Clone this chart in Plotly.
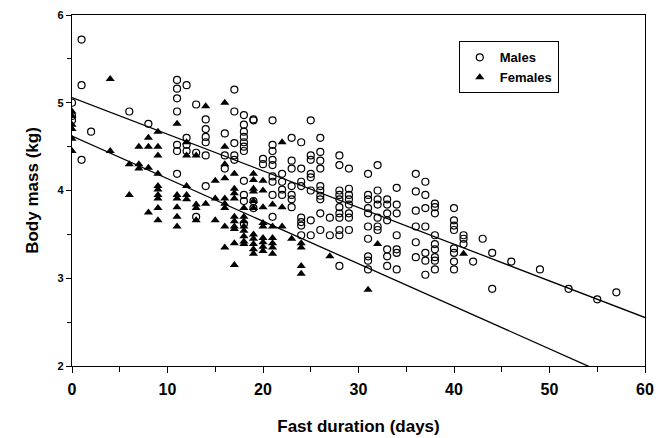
import plotly.graph_objects as go

# Males: (day, body mass) columns
male_days = (
    [0]*3 + [1]*3 + [2] + [6] + [8] + [11]*7 + [12]*4 + [13]*3 + [14]*6 + [16]*3 + [17]*5 +
    [18]*11 + [19]*4 + [20]*2 + [21]*9 + [22]*4 + [23]*7 + [24]*8 + [25]*8 + [26]*10 + [27]*2 +
    [28]*11 + [29]*8 + [31]*10 + [32]*7 + [33]*7 + [34]*7 + [36]*6 + [37]*7 + [38]*9 + [40]*8 +
    [41]*3 + [42] + [43] + [44]*2 + [46] + [49] + [52] + [55] + [57]
)
male_mass = [
    5.0, 4.85, 4.8,
    5.72, 5.2, 4.35,
    4.67,
    4.9,
    4.76,
    5.26, 5.16, 5.05, 4.9, 4.52, 4.45, 4.19,
    5.2, 4.6, 4.52, 4.45,
    4.98, 4.43, 3.7,
    4.81, 4.7, 4.61, 4.55, 4.4, 4.05,
    4.65, 4.4, 4.25,
    5.15, 4.9, 4.54, 4.4, 4.35,
    4.86, 4.75, 4.67, 4.61, 4.55, 4.5, 4.45, 4.11, 3.95, 3.88, 3.62,
    4.81, 4.8, 3.88, 3.8,
    4.36, 4.3,
    4.8, 4.52, 4.45, 4.35, 4.29, 4.16, 4.1, 3.95, 3.7,
    4.19, 4.1, 4.01, 3.95,
    4.6, 4.34, 4.25, 4.05, 3.95, 3.9, 3.81,
    4.55, 4.25, 4.1, 4.05, 3.69, 3.64, 3.6, 3.49,
    4.8, 4.4, 4.35, 4.19, 4.15, 4.0, 3.66, 3.49,
    4.6, 4.44, 4.34, 4.25, 4.05, 4.0, 3.94, 3.9, 3.74, 3.55,
    3.69, 3.49,
    4.4, 4.29, 4.0, 3.95, 3.9, 3.81, 3.74, 3.69, 3.55, 3.49, 3.14,
    4.25, 4.02, 3.95, 3.9, 3.84, 3.74, 3.69, 3.55,
    4.19, 3.95, 3.9, 3.8, 3.74, 3.59, 3.45, 3.25, 3.2, 3.1,
    4.29, 4.0, 3.9, 3.84, 3.69, 3.59, 3.55,
    3.9, 3.84, 3.74, 3.66, 3.33, 3.25, 3.14,
    4.03, 3.84, 3.74, 3.49, 3.33, 3.29, 3.1,
    4.19, 3.99, 3.77, 3.59, 3.41, 3.24,
    4.1, 3.95, 3.8, 3.59, 3.29, 3.2, 3.04,
    3.85, 3.81, 3.74, 3.49, 3.39, 3.33, 3.24, 3.2, 3.1,
    3.8, 3.66, 3.6, 3.55, 3.34, 3.29, 3.19, 3.1,
    3.49, 3.45, 3.39,
    3.19,
    3.45,
    3.29, 2.88,
    3.19,
    3.1,
    2.88,
    2.76,
    2.84,
]

female_days = (
    [0]*6 + [4]*2 + [6]*2 + [7]*3 + [8]*4 + [9]*10 + [11]*6 + [12]*5 + [13]*4 + [14]*2 +
    [15]*3 + [16]*9 + [17]*10 + [18]*8 + [19]*11 + [20]*9 + [21]*6 + [22]*3 + [23] + [24]*4 +
    [27] + [31] + [32] + [41]
)
female_mass = [
    4.9, 4.85, 4.75, 4.7, 4.59, 4.45,
    5.27, 4.45,
    4.3, 3.95,
    4.5, 4.3, 4.25,
    4.6, 4.5, 4.26, 3.75,
    4.67, 4.5, 4.4, 4.19, 4.05, 4.01, 3.95, 3.91, 3.8, 3.66,
    4.76, 3.95, 3.91, 3.81, 3.7, 3.59,
    4.55, 4.4, 4.05, 3.95, 3.9,
    4.4, 3.84, 3.8, 3.66,
    4.96, 3.85,
    4.11, 3.91, 3.66,
    5.0, 4.5, 4.3, 4.14, 3.91, 3.85, 3.8, 3.59, 3.35,
    4.19, 4.02, 3.97, 3.91, 3.7, 3.65, 3.59, 3.56, 3.4, 3.15,
    3.8, 3.7, 3.65, 3.59, 3.54, 3.48, 3.42, 3.39,
    4.19, 4.12, 4.02, 3.99, 3.88, 3.8, 3.5, 3.45, 3.39, 3.33, 3.28,
    4.11, 4.0, 3.81, 3.63, 3.59, 3.46, 3.41, 3.36, 3.31,
    3.84, 3.59, 3.46, 3.4, 3.35, 3.28,
    4.55, 3.81, 3.59,
    3.45,
    3.4, 3.35, 3.14, 3.05,
    3.25,
    2.87,
    3.39,
    3.28,
]

# Regression lines (intercept, slope)
male_fit = (5.06, -0.0418)
female_fit = (4.62, -0.0485)
fit_x = [0, 60]

x_ticks = [0, 10, 20, 30, 40, 50, 60]
y_ticks = [2, 3, 4, 5, 6]
x_minor = [(a + b) / 2 for a, b in zip(x_ticks[:-1], x_ticks[1:])]
y_minor = [(a + b) / 2 for a, b in zip(y_ticks[:-1], y_ticks[1:])]

FONT = "Liberation Sans, Arial"

fig = go.Figure()

for (b0, b1) in (male_fit, female_fit):
    fig.add_trace(go.Scatter(
        x=fit_x, y=[b0 + b1 * v for v in fit_x], mode="lines",
        line=dict(color="black", width=1.3), showlegend=False, hoverinfo="skip"))

fig.add_trace(go.Scatter(
    x=male_days, y=male_mass, mode="markers", name="Males",
    marker=dict(symbol="circle-open", size=7, color="black", line=dict(width=1.2))))
fig.add_trace(go.Scatter(
    x=female_days, y=female_mass, mode="markers", name="Females",
    marker=dict(symbol="triangle-up", size=8, color="black")))

axis_common = dict(showgrid=False, zeroline=False, showline=True, linecolor="black",
                   linewidth=1.3, mirror=True, ticks="outside", tickcolor="black",
                   automargin=False, ticklabeloverflow="allow")

fig.update_xaxes(range=[0, 60], tickvals=x_ticks, ticklen=6, ticklabelstandoff=3,
                 minor=dict(tickvals=x_minor, ticks="outside", ticklen=5, tickcolor="black"),
                 tickfont=dict(family=FONT, size=16, color="black", weight="bold"),
                 title=dict(text="Fast duration (days)",
                            font=dict(family=FONT, size=17, color="black", weight="bold"),
                            standoff=22),
                 **axis_common)
fig.update_yaxes(range=[2, 6], tickvals=y_ticks, ticklen=5,
                 minor=dict(tickvals=y_minor, ticks="outside", ticklen=4, tickcolor="black"),
                 tickfont=dict(family=FONT, size=11, color="black", weight="bold"),
                 title=dict(text="Body mass (kg)",
                            font=dict(family=FONT, size=17, color="black", weight="bold"),
                            standoff=14),
                 **axis_common)

fig.update_layout(
    width=660, height=430,
    margin=dict(l=64, r=23, t=7, b=72),
    plot_bgcolor="white", paper_bgcolor="white",
    legend=dict(x=0.675, y=0.925, xanchor="left", yanchor="top",
                bordercolor="black", borderwidth=1, bgcolor="white",
                font=dict(family=FONT, size=13, color="black", weight="bold"),
                tracegroupgap=0),
)

fig.write_html("out.html")
